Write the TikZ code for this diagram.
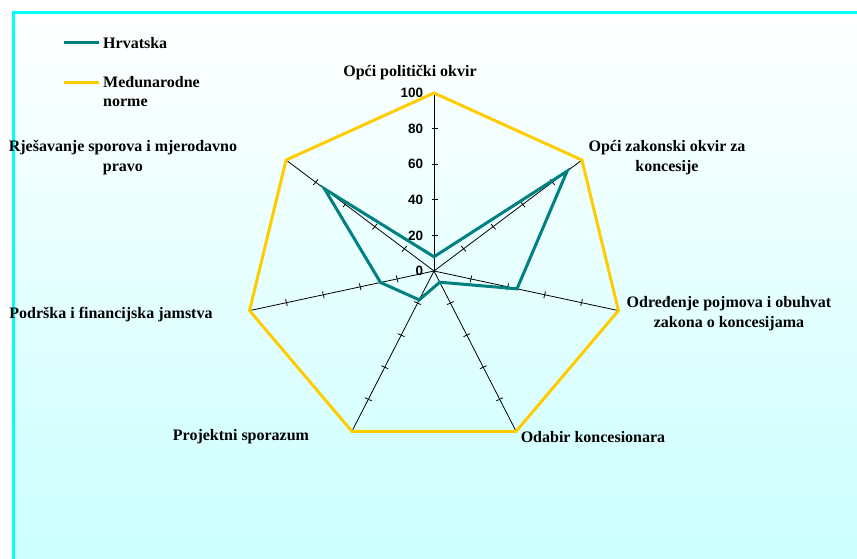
\documentclass[tikz,border=0pt]{standalone}
\usepackage{fontspec}
\setmainfont{Liberation Serif}
\newfontfamily\numfont{Liberation Sans}
\usetikzlibrary{positioning}
\definecolor{hrvcolor}{HTML}{008080}
\definecolor{normcolor}{HTML}{FFCC00}
\definecolor{framecolor}{HTML}{00FFFF}
\definecolor{bgcolor}{HTML}{CCFFFF}

\begin{document}
\begin{tikzpicture}[x=1pt, y=-1pt]

\tikzstyle{axislabel} = [
    font=\fontsize{16}{20}\selectfont\bfseries,
    align=center,
    inner sep=0pt
];
\tikzstyle{ticklabel} = [font=\fontsize{13.5}{15}\selectfont\numfont\bfseries, anchor=east, inner sep=0pt];
\tikzstyle{legendtext} = [font=\fontsize{16}{19}\selectfont\bfseries, align=left, inner sep=0pt];
\tikzstyle{hrv} = [draw=hrvcolor, line width=3pt];
\tikzstyle{norm} = [draw=normcolor, line width=3pt];
\tikzstyle{spoke} = [draw=black, line width=0.8pt];

\useasboundingbox (0,0) rectangle (857,559);
\shade[top color=white, bottom color=bgcolor] (13,13) rectangle (857,559);
\draw[framecolor, line width=3pt] (13,559) -- (13,13) -- (857,13);

\begin{scope}[shift={(434,271)}, x=1.063pt, y=1pt]
\coordinate (o) at (0,0);
\foreach \i in {0,...,6} {
    \coordinate (a\i) at ({90-\i*360/7}:178);
    \draw[spoke] (o) -- (a\i);
}
\foreach \i in {1,...,6} {
    \foreach \k in {1,...,4} {
        \pgfmathsetmacro{\t}{90-\i*360/7}
        \draw[spoke] ([shift={(\t+90:3.5)}]\t:{\k*35.6}) -- ([shift={(\t-90:3.5)}]\t:{\k*35.6});
    }
}
\foreach \v in {20,40,...,100} {
    \draw[spoke] (-2,{1.78*\v}) -- (4,{1.78*\v});
}
\foreach \v in {0,20,...,100} {
    \node[ticklabel] (tick\v) at (-10,{1.78*\v}) {\v};
}
\foreach \v [count=\i from 0] in {8,90,45,7,18,29,74} {
    \coordinate (h\i) at ({90-\i*360/7}:{1.78*\v});
}
\draw[norm] (a0) -- (a1) -- (a2) -- (a3) -- (a4) -- (a5) -- (a6) -- cycle;
\draw[hrv] (h0) -- (h1) -- (h2) -- (h3) -- (h4) -- (h5) -- (h6) -- cycle;
\end{scope}

\node[axislabel] (politicki) at (410,73) {Opći politički okvir};
\node[axislabel] (zakonski) at (667,158) {Opći zakonski okvir za\\koncesije};
\node[axislabel] (pojmovi) at (729,314) {Određenje pojmova i obuhvat\\zakona o koncesijama};
\node[axislabel] (odabir) at (593,437) {Odabir koncesionara};
\node[axislabel] (sporazum) at (241,437) {Projektni sporazum};
\node[axislabel] (jamstva) at (111,315) {Podrška i financijska jamstva};
\node[axislabel] (sporovi) at (123,158) {Rješavanje sporova i mjerodavno\\pravo};

\node[legendtext, anchor=west] (leghrv) at (103,43) {Hrvatska};
\node[legendtext, anchor=north west] (legnorm) at (103,76) {Međunarodne\\norme};
\draw[hrv] ([xshift=-4pt]leghrv.west) -- ++(-35,0);
\draw[norm] ([xshift=-4pt]leghrv.west |- 0,83) -- ++(-35,0);

\end{tikzpicture}
\end{document}
